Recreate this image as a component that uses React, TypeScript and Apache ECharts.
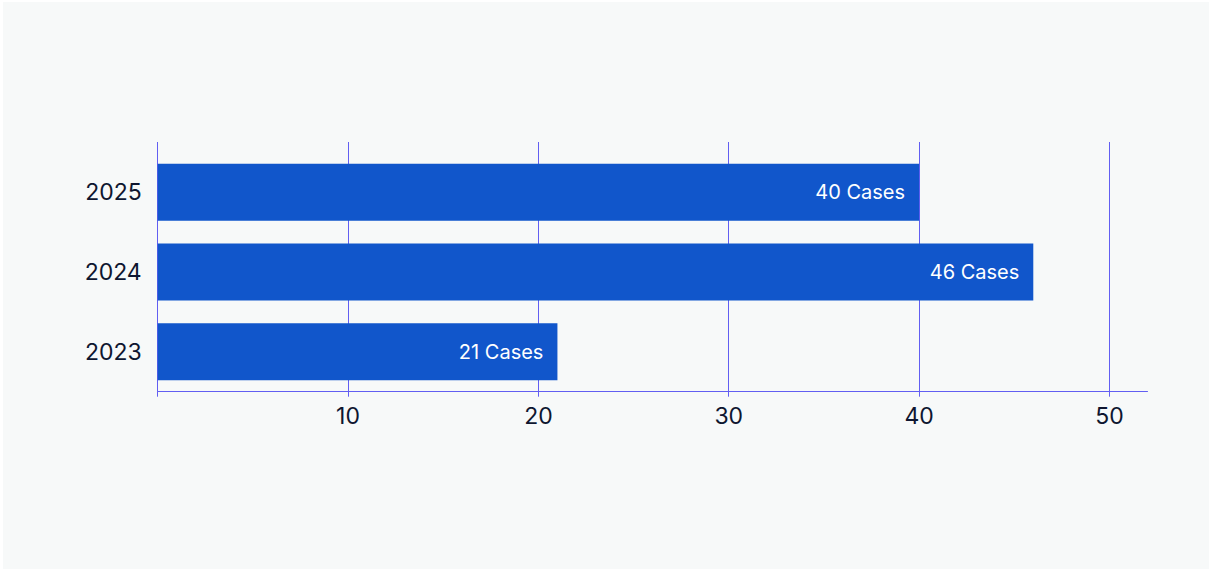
import React, { useEffect, useRef } from "react";
import * as echarts from "echarts";

// Yearly case counts (bottom-to-top order on the category axis)
const years = ["2023", "2024", "2025"];
const cases = [21, 46, 40];

// Value axis ticks
const xTicks = [0, 10, 20, 30, 40, 50];
const xLabels = [10, 20, 30, 40, 50];

const FONT = "Inter, 'Noto Sans', sans-serif";
const BAR_COLOR = "#1156CB";
const LINE_COLOR = "#625EF2";
const TEXT_COLOR = "#0E1630";

export default function App() {
  const ref = useRef<HTMLDivElement>(null);

  useEffect(() => {
    if (!ref.current) return;
    const chart = echarts.init(ref.current, undefined, { renderer: "svg" });

    const xAxisBase = {
      type: "value" as const,
      min: 0,
      max: 52,
      interval: 10,
    };

    chart.setOption({
      animation: false,
      backgroundColor: "#FFFFFF",
      textStyle: { fontFamily: FONT },
      graphic: [
        {
          type: "rect",
          z: -10,
          silent: true,
          shape: { x: 3, y: 2, width: 1206, height: 567 },
          style: { fill: "#F7F9F9" },
        },
      ],
      grid: [
        // bars and category labels
        { left: 157.7, right: 64.5, top: 152.5, bottom: 177.3 },
        // value axis with taller grid lines
        { left: 157.7, right: 64.5, top: 142, bottom: 177.3 },
      ],
      xAxis: [
        {
          ...xAxisBase,
          gridIndex: 0,
          show: false,
        },
        {
          ...xAxisBase,
          gridIndex: 1,
          axisLine: { show: true, lineStyle: { color: LINE_COLOR, width: 1 } },
          axisTick: {
            show: true,
            length: 5,
            customValues: xTicks,
            lineStyle: { color: LINE_COLOR, width: 1 },
          },
          splitLine: { show: true, lineStyle: { color: LINE_COLOR, width: 1 } },
          axisLabel: {
            customValues: xLabels,
            color: TEXT_COLOR,
            fontSize: 23,
            fontFamily: FONT,
            margin: 13,
          },
        },
      ],
      yAxis: [
        {
          type: "category",
          gridIndex: 0,
          data: years,
          axisLine: { show: false },
          axisTick: { show: false },
          splitLine: { show: false },
          axisLabel: {
            color: TEXT_COLOR,
            fontSize: 23,
            fontFamily: FONT,
            margin: 16,
          },
        },
        {
          type: "value",
          gridIndex: 1,
          show: false,
          min: 0,
          max: 1,
        },
      ],
      series: [
        {
          type: "bar",
          xAxisIndex: 0,
          yAxisIndex: 0,
          data: cases,
          barWidth: "71.5%",
          itemStyle: { color: BAR_COLOR },
          z: 5,
          label: {
            show: true,
            position: "insideRight",
            distance: 14,
            color: "#FFFFFF",
            fontSize: 20,
            fontFamily: FONT,
            formatter: (p: any) => `${p.value} Cases`,
          },
        },
      ],
    });

    return () => chart.dispose();
  }, []);

  return (
    <div
      ref={ref}
      style={{ position: "absolute", left: 0, top: 0, width: 1212, height: 569 }}
    />
  );
}
